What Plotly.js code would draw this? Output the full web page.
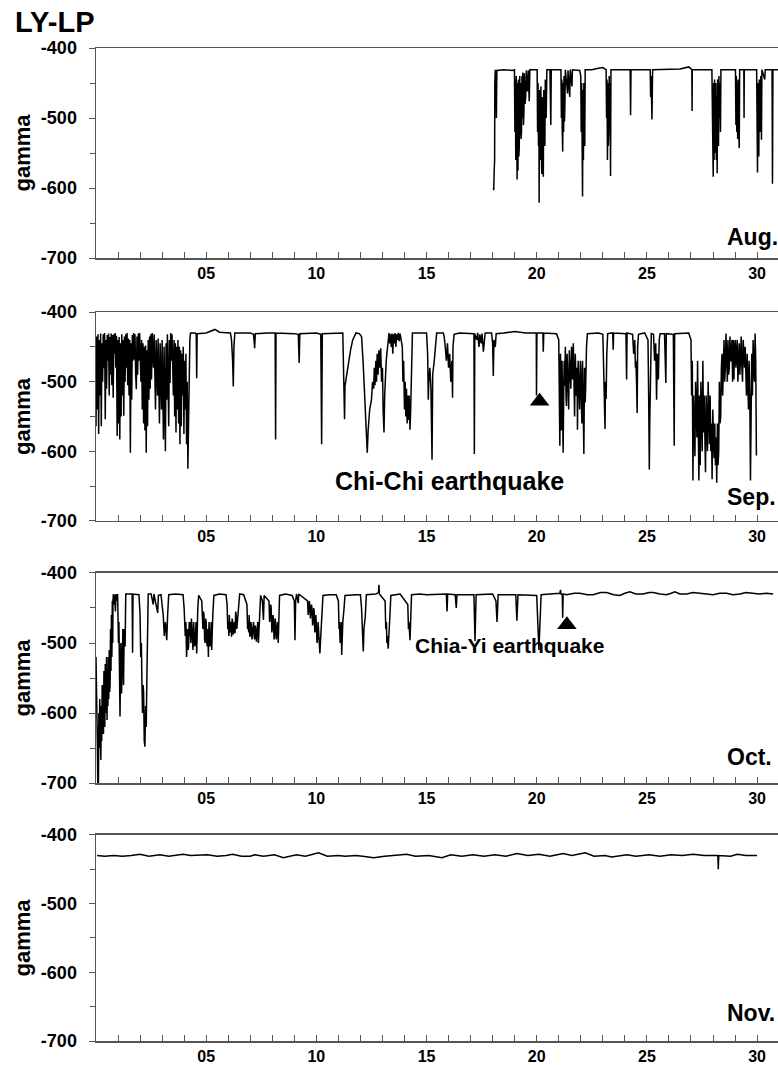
<!DOCTYPE html>
<html>
<head>
<meta charset="utf-8">
<script src="https://cdn.plot.ly/plotly-3.0.1.min.js"></script>
<style>html,body{margin:0;padding:0;background:#fff;}#chart{width:778px;height:1065px;}</style>
</head>
<body>
<div id="chart"></div>
<script>
// ---- data (day of month, gamma) ----
const augData = [[18.03,-600],[18.05,-603],[18.07,-575],[18.09,-560],[18.10,-450],[18.12,-431],[18.14,-465],[18.15,-431],[18.17,-500],[18.19,-432],[18.5,-431],[18.9,-432],[18.99,-431],
[19.01,-520],[19.03,-445],[19.05,-560],[19.07,-440],[19.09,-570],[19.11,-588],[19.13,-450],[19.15,-575],[19.17,-445],[19.19,-555],[19.21,-540],[19.23,-440],[19.25,-525],[19.27,-450],[19.29,-530],[19.31,-520],[19.33,-440],[19.35,-500],[19.37,-435],[19.40,-510],[19.42,-490],[19.44,-436],[19.47,-480],[19.50,-470],[19.53,-432],[19.56,-455],[19.58,-462],[19.62,-432],[19.66,-476],[19.69,-431],
[19.9,-431],[20.02,-431],[20.04,-520],[20.06,-450],[20.08,-540],[20.10,-460],[20.11,-621],[20.13,-460],[20.15,-530],[20.17,-560],[20.19,-455],[20.21,-545],[20.23,-580],[20.25,-470],[20.27,-550],[20.30,-584],[20.32,-460],[20.34,-520],[20.37,-540],[20.39,-445],[20.41,-480],[20.43,-500],[20.46,-431],
[20.6,-431],[20.64,-510],[20.66,-431],[21.0,-431],[21.10,-431],[21.12,-500],[21.14,-445],[21.16,-520],[21.18,-548],[21.20,-450],[21.22,-520],[21.24,-440],[21.26,-505],[21.28,-480],[21.30,-431],
[21.4,-465],[21.42,-432],[21.5,-470],[21.52,-431],[21.6,-455],[21.62,-431],[21.95,-432],
[22.00,-440],[22.02,-520],[22.04,-450],[22.06,-560],[22.08,-612],[22.10,-460],[22.12,-560],[22.14,-450],[22.16,-530],[22.18,-540],[22.20,-431],
[22.5,-431],[22.8,-429],[23.0,-428],[23.15,-431],[23.17,-500],[23.19,-445],[23.21,-560],[23.23,-450],[23.25,-540],[23.27,-520],[23.29,-440],[23.31,-510],[23.33,-450],[23.35,-583],[23.37,-431],
[24.0,-431],[24.24,-431],[24.26,-496],[24.28,-431],[25.15,-431],[25.17,-470],[25.19,-440],[25.21,-490],[25.23,-502],[25.26,-431],
[26.5,-430],[26.9,-427],[27.0,-431],[27.04,-431],[27.05,-490],[27.06,-431],
[27.95,-431],[27.97,-520],[27.99,-560],[28.01,-584],[28.03,-450],[28.05,-560],[28.07,-445],[28.09,-550],[28.11,-540],[28.13,-450],[28.15,-560],[28.17,-470],[28.19,-579],[28.21,-445],[28.23,-520],[28.25,-540],[28.27,-440],[28.29,-500],[28.31,-450],[28.34,-520],[28.36,-431],
[28.9,-431],[29.02,-431],[29.04,-510],[29.06,-440],[29.08,-520],[29.10,-450],[29.12,-530],[29.14,-445],[29.17,-520],[29.19,-543],[29.21,-431],[29.40,-431],[29.41,-500],[29.42,-431],
[29.98,-431],[30.00,-520],[30.02,-578],[30.04,-450],[30.06,-540],[30.08,-555],[30.10,-445],[30.12,-510],[30.15,-520],[30.17,-440],[30.19,-500],[30.20,-531],[30.22,-431],[30.35,-445],[30.37,-431],[30.5,-431],[30.68,-431],[30.70,-594],[30.72,-431],[30.95,-431]];

const sepData = [[0.00,-564],[0.03,-435],[0.06,-540],[0.09,-432],[0.12,-575],[0.15,-440],[0.18,-520],[0.21,-431],[0.24,-564],[0.27,-445],[0.30,-500],[0.33,-432],[0.36,-480],[0.39,-430],[0.42,-554],[0.45,-440],[0.48,-510],[0.51,-433],[0.54,-470],[0.57,-431],[0.60,-520],[0.63,-436],[0.66,-490],[0.69,-431],[0.72,-505],[0.75,-433],[0.78,-523],[0.81,-432],[0.84,-460],[0.87,-430],[0.90,-480],[0.93,-434],
[0.96,-578],[0.99,-440],[1.02,-560],[1.05,-436],[1.08,-583],[1.11,-445],[1.14,-550],[1.17,-432],[1.20,-520],[1.23,-440],[1.26,-549],[1.29,-435],[1.32,-500],[1.35,-432],[1.38,-480],[1.41,-430],[1.44,-505],[1.47,-438],[1.50,-520],[1.53,-440],[1.56,-602],[1.59,-445],[1.62,-526],[1.65,-433],[1.68,-470],[1.71,-430],[1.74,-468],[1.77,-432],[1.80,-490],[1.83,-511],[1.86,-435],[1.89,-490],[1.92,-431],[1.95,-470],[1.98,-430],
[2.01,-485],[2.04,-500],[2.07,-440],[2.10,-540],[2.13,-445],[2.16,-560],[2.19,-450],[2.22,-570],[2.25,-448],[2.28,-602],[2.31,-455],[2.34,-564],[2.37,-440],[2.40,-526],[2.43,-435],[2.46,-510],[2.49,-432],[2.52,-497],[2.55,-430],[2.58,-470],[2.61,-480],[2.64,-432],[2.67,-520],[2.70,-540],[2.73,-440],[2.76,-500],[2.79,-520],[2.82,-438],[2.85,-545],[2.88,-560],[2.91,-445],[2.94,-520],[2.97,-540],
[3.00,-440],[3.03,-560],[3.06,-583],[3.09,-450],[3.12,-570],[3.15,-600],[3.18,-445],[3.21,-526],[3.24,-432],[3.27,-540],[3.30,-564],[3.33,-440],[3.36,-502],[3.39,-430],[3.42,-470],[3.45,-432],[3.48,-500],[3.51,-520],[3.54,-440],[3.57,-550],[3.60,-445],[3.63,-573],[3.66,-450],[3.69,-540],[3.72,-440],[3.75,-560],[3.78,-450],[3.81,-590],[3.84,-455],[3.87,-564],[3.90,-460],[3.93,-520],[3.96,-450],[3.99,-575],
[4.02,-470],[4.05,-540],[4.08,-460],[4.11,-590],[4.14,-500],[4.17,-625],[4.20,-560],[4.23,-480],[4.26,-440],[4.29,-430],
[4.50,-430],[4.55,-432],[4.57,-495],[4.59,-431],[5.0,-430],[5.4,-425],[5.6,-429],[6.1,-430],[6.15,-440],[6.20,-470],[6.23,-507],[6.26,-450],[6.30,-430],
[7.0,-430],[7.15,-432],[7.20,-452],[7.23,-431],[7.8,-430],[8.13,-430],[8.15,-583],[8.17,-430],[9.0,-431],[9.18,-432],[9.22,-473],[9.25,-431],[10.0,-430],[10.20,-432],[10.24,-590],[10.27,-431],[11.2,-430],
[11.25,-500],[11.28,-554],[11.30,-506],[11.35,-495],[11.45,-480],[11.55,-455],[11.65,-440],[11.80,-430],[11.95,-431],[12.05,-435],[12.12,-470],[12.20,-520],[12.25,-560],[12.31,-602],[12.35,-570],[12.42,-540],[12.50,-526],[12.55,-500],
[12.60,-510],[12.63,-480],[12.66,-505],[12.70,-470],[12.73,-500],[12.76,-460],[12.80,-490],[12.84,-455],[12.88,-480],[12.92,-452],[12.96,-500],[13.00,-480],[13.03,-540],[13.07,-573],[13.10,-520],[13.13,-492],[13.17,-470],[13.20,-460],[13.25,-440],
[13.30,-430],[13.33,-445],[13.36,-432],[13.40,-450],[13.43,-431],[13.47,-460],[13.50,-432],[13.54,-445],[13.57,-430],[13.61,-450],[13.64,-432],[13.68,-440],[13.72,-430],[13.76,-442],[13.80,-431],
[13.90,-450],[13.93,-500],[13.96,-470],[14.00,-540],[14.03,-500],[14.06,-550],[14.09,-510],[14.12,-560],[14.15,-520],[14.18,-555],[14.21,-520],[14.25,-569],[14.28,-540],[14.32,-500],[14.36,-430],
[14.6,-430],[15.0,-430],[15.05,-460],[15.08,-526],[15.10,-500],[15.15,-480],[15.20,-510],[15.25,-612],[15.28,-490],[15.35,-470],[15.42,-440],[15.46,-430],
[15.76,-430],[15.80,-435],[15.85,-450],[15.90,-470],[15.95,-445],[16.00,-480],[16.05,-460],[16.10,-500],[16.15,-470],[16.18,-523],[16.20,-450],[16.25,-432],
[16.5,-430],[17.0,-431],[17.15,-431],[17.17,-604],[17.19,-431],
[17.28,-440],[17.32,-430],[17.38,-450],[17.42,-432],[17.48,-445],[17.52,-431],[17.58,-457],[17.62,-435],[17.66,-430],
[17.95,-430],[18.00,-445],[18.03,-492],[18.06,-440],[18.12,-450],[18.16,-431],
[18.5,-430],[19.0,-428],[19.5,-430],[19.98,-430],[19.99,-520],[20.01,-430],[20.28,-430],[20.30,-457],[20.32,-430],[20.9,-431],
[21.00,-440],[21.03,-520],[21.05,-592],[21.08,-460],[21.10,-540],[21.12,-570],[21.15,-470],[21.18,-560],[21.20,-602],[21.23,-500],[21.25,-470],[21.27,-506],[21.30,-450],[21.33,-520],[21.35,-535],[21.38,-460],[21.41,-510],[21.45,-540],[21.48,-455],[21.51,-500],[21.55,-510],[21.58,-450],[21.60,-490],[21.63,-497],[21.66,-445],[21.69,-520],[21.72,-550],[21.75,-460],[21.78,-500],[21.80,-520],[21.83,-480],[21.85,-569],[21.88,-470],[21.91,-520],[21.95,-540],[21.98,-470],[22.00,-480],[22.03,-530],[22.05,-560],[22.08,-470],[22.11,-540],[22.14,-604],[22.17,-480],[22.20,-530],[22.22,-510],[22.26,-450],[22.30,-431],
[22.8,-430],[23.0,-432],[23.03,-470],[23.05,-520],[23.08,-510],[23.10,-568],[23.12,-500],[23.15,-525],[23.18,-460],[23.22,-431],[23.45,-430],[23.47,-454],[23.49,-430],[24.05,-431],[24.08,-497],[24.10,-430],
[24.35,-432],[24.40,-460],[24.45,-440],[24.48,-480],[24.50,-470],[24.53,-500],[24.56,-545],[24.58,-450],[24.62,-432],
[24.9,-430],[25.05,-440],[25.08,-520],[25.11,-626],[25.13,-560],[25.16,-480],[25.20,-431],
[25.30,-432],[25.35,-470],[25.40,-445],[25.44,-526],[25.47,-460],[25.52,-497],[25.56,-440],[25.60,-431],
[25.80,-431],[25.86,-502],[25.88,-431],[26.20,-432],[26.24,-592],[26.26,-431],[26.9,-430],
[27.00,-440],[27.03,-520],[27.06,-470],[27.09,-642],[27.12,-520],[27.15,-560],[27.18,-607],[27.21,-500],[27.24,-560],[27.27,-580],[27.30,-470],[27.33,-600],[27.36,-642],[27.39,-520],[27.42,-620],[27.45,-500],[27.48,-560],[27.51,-600],[27.54,-470],[27.57,-573],[27.60,-520],[27.63,-600],[27.66,-630],[27.69,-520],[27.72,-580],[27.75,-600],[27.78,-500],[27.81,-560],[27.84,-590],[27.87,-520],[27.90,-600],[27.93,-560],[27.96,-640],[27.99,-540],
[28.02,-600],[28.05,-610],[28.08,-560],[28.11,-620],[28.14,-580],[28.17,-645],[28.20,-560],[28.23,-620],[28.26,-600],[28.29,-500],[28.32,-560],[28.35,-550],[28.38,-480],[28.41,-460],[28.44,-520],[28.47,-470],[28.50,-440],[28.53,-500],[28.56,-480],[28.59,-431],[28.62,-470],[28.65,-500],[28.68,-440],[28.71,-490],[28.74,-480],[28.77,-435],[28.80,-470],[28.83,-470],[28.86,-440],[28.89,-500],[28.92,-440],[28.95,-497],[28.98,-450],
[29.01,-440],[29.04,-480],[29.07,-460],[29.10,-440],[29.13,-500],[29.16,-480],[29.19,-445],[29.22,-490],[29.25,-470],[29.28,-435],[29.31,-480],[29.34,-500],[29.37,-440],[29.40,-470],[29.43,-480],[29.46,-450],[29.49,-510],[29.52,-520],[29.55,-460],[29.58,-500],[29.61,-540],[29.64,-470],[29.67,-520],[29.70,-642],[29.73,-500],[29.76,-460],[29.79,-520],[29.82,-440],[29.85,-480],[29.88,-500],[29.91,-431],[29.94,-470],[29.97,-606]];

const octData = [[0.00,-520],[0.02,-600],[0.04,-560],[0.06,-640],[0.08,-700],[0.09,-620],[0.11,-700],[0.13,-600],[0.15,-650],[0.17,-580],[0.19,-640],[0.21,-600],[0.22,-667],[0.24,-590],[0.26,-640],[0.28,-560],[0.30,-630],[0.32,-560],[0.34,-630],[0.36,-540],[0.38,-610],[0.40,-620],[0.42,-530],[0.44,-600],[0.46,-560],[0.48,-520],[0.50,-610],[0.52,-540],[0.54,-590],[0.56,-520],[0.58,-580],[0.60,-510],[0.62,-570],[0.64,-560],[0.66,-480],[0.68,-540],[0.70,-460],[0.72,-520],[0.74,-440],[0.76,-500],[0.77,-440],[0.79,-430],
[0.82,-445],[0.85,-431],[0.88,-455],[0.91,-430],[0.95,-440],[0.98,-430],
[1.02,-500],[1.04,-470],[1.06,-560],[1.09,-605],[1.11,-540],[1.13,-500],[1.16,-572],[1.19,-520],[1.22,-480],[1.25,-560],[1.28,-480],[1.32,-505],[1.35,-430],
[1.5,-430],[1.64,-430],[1.66,-514],[1.68,-430],[1.95,-431],
[2.00,-460],[2.03,-520],[2.06,-500],[2.08,-548],[2.11,-600],[2.14,-560],[2.16,-570],[2.19,-640],[2.22,-648],[2.25,-590],[2.28,-620],[2.31,-548],[2.34,-480],[2.37,-430],
[2.5,-430],[2.6,-445],[2.63,-430],[2.8,-457],[2.83,-432],[2.95,-431],
[3.05,-460],[3.10,-490],[3.15,-470],[3.21,-496],[3.25,-460],[3.30,-431],[3.6,-430],[3.95,-431],
[4.00,-450],[4.03,-470],[4.05,-490],[4.08,-470],[4.11,-520],[4.15,-480],[4.18,-510],[4.20,-505],[4.23,-470],[4.25,-490],[4.28,-470],[4.30,-500],[4.33,-465],[4.35,-476],[4.38,-500],[4.40,-510],[4.43,-470],[4.45,-480],[4.48,-505],[4.50,-500],[4.54,-470],[4.57,-515],[4.62,-450],[4.66,-432],
[4.80,-440],[4.83,-470],[4.85,-480],[4.88,-455],[4.90,-460],[4.93,-495],[4.95,-500],[4.98,-465],[5.00,-470],[5.03,-500],[5.05,-505],[5.08,-480],[5.10,-520],[5.13,-470],[5.15,-480],[5.18,-505],[5.20,-500],[5.23,-470],[5.25,-510],[5.30,-460],[5.35,-432],
[5.6,-430],[5.9,-431],
[5.95,-445],[5.98,-480],[6.00,-470],[6.03,-490],[6.05,-460],[6.08,-480],[6.10,-485],[6.13,-470],[6.15,-491],[6.18,-465],[6.20,-470],[6.23,-488],[6.25,-480],[6.28,-470],[6.31,-486],[6.34,-455],[6.36,-460],[6.39,-480],[6.42,-470],[6.45,-450],[6.48,-440],[6.52,-430],
[6.7,-431],
[6.85,-445],[6.88,-480],[6.90,-470],[6.93,-485],[6.95,-460],[6.98,-490],[7.00,-490],[7.03,-470],[7.05,-475],[7.08,-495],[7.10,-485],[7.13,-470],[7.15,-470],[7.18,-490],[7.20,-495],[7.23,-475],[7.25,-480],[7.28,-498],[7.30,-492],[7.34,-470],[7.37,-500],[7.42,-470],[7.47,-432],
[7.55,-440],[7.60,-467],[7.63,-432],
[7.85,-440],[7.88,-470],[7.90,-465],[7.93,-445],[7.95,-450],[7.98,-485],[8.00,-480],[8.03,-460],[8.05,-465],[8.08,-495],[8.10,-490],[8.13,-465],[8.15,-470],[8.18,-495],[8.20,-485],[8.24,-470],[8.27,-500],[8.30,-460],[8.33,-432],
[8.6,-430],[8.9,-432],[9.00,-440],[9.03,-496],[9.06,-440],[9.10,-430],[9.18,-443],[9.20,-430],
[9.60,-440],[9.63,-460],[9.65,-455],[9.68,-440],[9.70,-445],[9.73,-465],[9.75,-460],[9.78,-445],[9.80,-450],[9.83,-475],[9.85,-470],[9.88,-450],[9.90,-455],[9.93,-485],[9.95,-480],[9.98,-460],[10.00,-470],[10.03,-500],[10.05,-495],[10.08,-470],[10.10,-480],[10.13,-505],[10.16,-515],[10.20,-490],[10.25,-460],[10.30,-432],
[10.6,-431],[10.9,-431],
[11.00,-440],[11.03,-480],[11.05,-470],[11.08,-500],[11.10,-490],[11.13,-470],[11.15,-517],[11.18,-480],[11.20,-470],[11.25,-453],[11.30,-432],
[11.8,-431],[12.0,-431],
[12.05,-450],[12.08,-490],[12.10,-480],[12.13,-512],[12.16,-480],[12.19,-470],[12.22,-462],[12.27,-431],
[12.7,-430],[12.82,-428],[12.84,-417],[12.86,-430],
[13.12,-440],[13.15,-480],[13.18,-470],[13.20,-500],[13.22,-490],[13.26,-508],[13.30,-472],[13.34,-460],[13.38,-432],
[13.8,-430],[14.15,-445],[14.18,-480],[14.20,-470],[14.25,-496],[14.28,-460],[14.32,-431],
[14.7,-430],[15.0,-431],[15.9,-430],[15.93,-455],[15.96,-430],[16.3,-431],[16.35,-450],[16.38,-431],[17.15,-431],[17.2,-497],[17.25,-431],
[18.0,-430],[18.15,-440],[18.2,-470],[18.25,-431],[19.05,-431],[19.1,-468],[19.15,-431],[20.0,-432],[20.05,-470],[20.1,-510],[20.15,-470],[20.2,-431],
[20.6,-430],[21.05,-429],[21.08,-424],[21.10,-430],[21.16,-431],[21.18,-464],[21.20,-430],
[21.36,-431],[21.7,-429],[21.96,-429],[22.3,-431],[22.56,-431],[22.9,-428],[23.17,-428],[23.5,-431],[23.77,-432],[24.0,-429],[24.23,-427],[24.5,-430],[24.83,-430],[25.1,-428],[25.29,-428],[25.6,-430],[25.89,-431],[26.1,-429],[26.27,-427],[26.5,-430],[26.80,-430],[27.1,-428],[27.41,-429],[27.7,-430],[28.01,-431],[28.3,-429],[28.62,-429],[28.9,-431],[29.22,-430],[29.5,-428],[29.83,-429],[30.1,-430],[30.43,-429],[30.73,-430]];

const novData = [[0.05,-430],[0.4,-431],[0.8,-430],[1.2,-431],[1.6,-430],[2.0,-428],[2.4,-431],[2.9,-429],[3.3,-431],[3.6,-430],[3.95,-428],[4.3,-430],[4.6,-430],[5.05,-429],[5.5,-431],[5.9,-430],[6.2,-428],[6.6,-431],[7.0,-431],[7.2,-429],[7.6,-431],[8.1,-429],[8.5,-433],[8.8,-431],[9.1,-429],[9.5,-431],[10.1,-426],[10.5,-431],[11.0,-430],[11.3,-431],[11.8,-430],[12.1,-431],[12.6,-433],[13.1,-431],[13.5,-430],[14.1,-428],[14.5,-431],[15.1,-430],[15.7,-433],[16.1,-429],[16.6,-431],[17.1,-429],[17.6,-431],[18.1,-429],[18.6,-431],[19.1,-427],[19.6,-430],[20.1,-428],[20.6,-431],[21.2,-427],[21.6,-430],[22.2,-426],[22.6,-431],[23.1,-430],[23.4,-432],[24.1,-429],[24.5,-431],[25.1,-429],[25.6,-431],[26.1,-429],[26.6,-430],[27.1,-428],[27.6,-430],[28.22,-430],[28.24,-450],[28.26,-430],[28.8,-431],[29.1,-428],[29.5,-430],[30.0,-430]];

// earthquake markers
const quakeDays = [20.13, 21.37];
const quakeVals = [-528, -474];
const quakePanels = [2, 3];
const quakeNames = ['Chi-Chi earthquake', 'Chia-Yi earthquake'];
const quakeLabelDays = [10.75, 14.4];
const quakeLabelVals = [-643, -503];
const quakeLabelSizes = [25, 21];

const months = ['Aug.', 'Sep.', 'Oct.', 'Nov.'];
const series = [augData, sepData, octData, novData];
const xTickVals = [5, 10, 15, 20, 25, 30];
const xTickText = ['05', '10', '15', '20', '25', '30'];
const yTickVals = [-700, -600, -500, -400];
const yTickText = ['-700', '-600', '-500', '-400'];

// ---- layout ----
const FONT = 'Liberation Sans, Arial, Helvetica, sans-serif';
const AX = '#555';
const domains = [[0.7885, 1], [0.5237, 0.7341], [0.2598, 0.4713], [0, 0.2075]];
const monthY = [-670, -666, -663, -659];

const traces = [];
const layout = {
  width: 778, height: 1065,
  margin: {l: 96, r: 0, t: 48, b: 24},
  paper_bgcolor: '#fff', plot_bgcolor: '#fff',
  showlegend: false,
  title: {text: 'LY-LP', x: 15 / 778, xref: 'container', xanchor: 'left', y: 1 - 22 / 1065, yref: 'container', yanchor: 'middle',
          font: {family: FONT, size: 29, weight: 'bold', color: '#000'}},
  annotations: [],
  font: {family: FONT, color: '#000'}
};

series.forEach((d, i) => {
  const n = i + 1;
  const xs = n === 1 ? 'x' : 'x' + n;
  const ys = n === 1 ? 'y' : 'y' + n;
  traces.push({
    type: 'scatter', mode: 'lines',
    x: d.map(p => p[0]), y: d.map(p => p[1]),
    xaxis: xs, yaxis: ys,
    line: {color: '#000', width: 1.5},
    hoverinfo: 'skip'
  });
  layout['xaxis' + (n === 1 ? '' : n)] = {
    domain: [0, 1], anchor: ys, range: [0, 30.95],
    showgrid: false, zeroline: false,
    showline: true, linecolor: AX, linewidth: 1.5, mirror: true,
    tickvals: xTickVals, ticktext: xTickText,
    ticks: 'inside', ticklen: 6, tickwidth: 1, tickcolor: AX,
    minor: {tick0: 0, dtick: 1, ticks: 'inside', ticklen: 6, tickwidth: 1, tickcolor: AX, showgrid: false},
    tickfont: {family: FONT, size: 16, weight: 'bold', color: '#000'}
  };
  layout['yaxis' + (n === 1 ? '' : n)] = {
    domain: domains[i], anchor: xs, range: [-700, -400],
    showgrid: false, zeroline: false,
    showline: true, linecolor: AX, linewidth: 1.5,
    tickvals: yTickVals, ticktext: yTickText,
    ticks: 'outside', ticklen: 6, tickwidth: 1, tickcolor: AX,
    ticklabelstandoff: 8,
    minor: {tick0: -700, dtick: 50, ticks: 'outside', ticklen: 5, tickwidth: 1, tickcolor: AX, showgrid: false},
    tickfont: {family: FONT, size: 18, weight: 'bold', color: '#000'},
    title: {text: 'gamma', standoff: 4, font: {family: FONT, size: 22, weight: 'bold', color: '#000'}}
  };
  layout.annotations.push({
    text: months[i], xref: xs, yref: ys, x: 28.55, y: monthY[i],
    xanchor: 'left', yanchor: 'middle', showarrow: false,
    font: {family: FONT, size: 23, weight: 'bold', color: '#000'}
  });
});

quakeDays.forEach((d, k) => {
  const n = quakePanels[k];
  traces.push({
    type: 'scatter', mode: 'markers',
    x: [d], y: [quakeVals[k]],
    xaxis: 'x' + n, yaxis: 'y' + n,
    marker: {symbol: 'triangle-up', size: 17, color: '#000'},
    hoverinfo: 'skip'
  });
  layout.annotations.push({
    text: quakeNames[k], xref: 'x' + n, yref: 'y' + n, x: quakeLabelDays[k], y: quakeLabelVals[k],
    xanchor: 'left', yanchor: 'middle', showarrow: false,
    font: {family: FONT, size: quakeLabelSizes[k], weight: 'bold', color: '#000'}
  });
});

Plotly.newPlot('chart', traces, layout, {staticPlot: true, displayModeBar: false});
</script>
</body>
</html>
